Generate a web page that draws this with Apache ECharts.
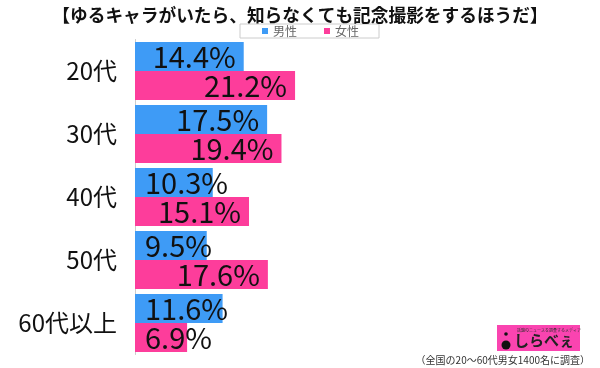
<!DOCTYPE html>
<html><head><meta charset="utf-8">
<script src="https://cdn.jsdelivr.net/npm/echarts@6/dist/echarts.min.js"></script>
<style>html,body{margin:0;padding:0;background:#fff}#c{width:600px;height:368px}</style>
</head><body><div id="c"></div>
<script>
const titleText = '【ゆるキャラがいたら、知らなくても記念撮影をするほうだ】';
const categories = ['20代', '30代', '40代', '50代', '60代以上'];
const seriesNames = ['男性', '女性'];
const male = [14.4, 17.5, 10.3, 9.5, 11.6];
const female = [21.2, 19.4, 15.1, 17.6, 6.9];
const footnote = '（全国の20～60代男女1400名に調査）';

const FONT = '"Noto Sans CJK JP", "Noto Sans", sans-serif';
const BLUE = '#3e9bf6', PINK = '#fd3d9b';

function items(arr) {
  return arr.map(v => ({
    value: v,
    label: v < 13.6 ? { position: 'insideLeft', distance: 10 } : { position: 'insideRight', distance: 8 }
  }));
}
const labelStyle = {
  show: true, formatter: '{c}%', color: '#111', fontSize: 29, fontFamily: FONT
};

const chart = echarts.init(document.getElementById('c'));
chart.setOption({
  animation: false,
  backgroundColor: '#fff',
  title: {
    text: titleText, left: 'center', top: 1,
    textStyle: { fontSize: 17.7, fontWeight: 'bold', color: '#111', fontFamily: FONT }
  },
  legend: {
    data: seriesNames, top: 24, left: 240,
    icon: 'rect', itemWidth: 6, itemHeight: 6, itemGap: 27,
    padding: [1, 20, 1, 22],
    borderColor: '#ccc', borderWidth: 1,
    textStyle: { fontSize: 12, color: '#666', fontFamily: FONT }
  },
  grid: { left: 135, top: 39.5, width: 453, height: 315, containLabel: false },
  xAxis: {
    type: 'value', min: 0, max: 60, show: false
  },
  yAxis: {
    type: 'category', data: categories, inverse: true,
    axisLine: { show: true, lineStyle: { color: '#ccc', width: 1 } },
    axisTick: { show: false },
    axisLabel: { fontSize: 24, color: '#111', margin: 18, fontFamily: FONT }
  },
  series: [
    { name: seriesNames[0], type: 'bar', data: items(male), barWidth: 29, barGap: '0%',
      itemStyle: { color: BLUE }, label: labelStyle },
    { name: seriesNames[1], type: 'bar', data: items(female), barWidth: 29, barGap: '0%',
      itemStyle: { color: PINK }, label: labelStyle }
  ],
  graphic: [
    { type: 'rect', left: 497, top: 325, shape: { width: 83, height: 26 }, style: { fill: '#fa44b0' } },
    { type: 'text', left: 517, top: 328, style: { text: '話題のニュースを調査するメディア', fontSize: 4, fill: '#333', fontFamily: FONT } },
    { type: 'circle', shape: { cx: 506, cy: 345, r: 4.5 }, style: { fill: '#111' } },
    { type: 'circle', shape: { cx: 506, cy: 334, r: 1.8 }, style: { fill: '#111' } },
    { type: 'text', left: 514, top: 333, style: { text: 'しらべぇ', fontSize: 15, fontWeight: 'bold', fill: '#222', fontFamily: FONT } },
    { type: 'text', right: 10, top: 355, style: { text: footnote, fontSize: 10, fill: '#333', fontFamily: FONT } }
  ]
});
</script></body></html>
